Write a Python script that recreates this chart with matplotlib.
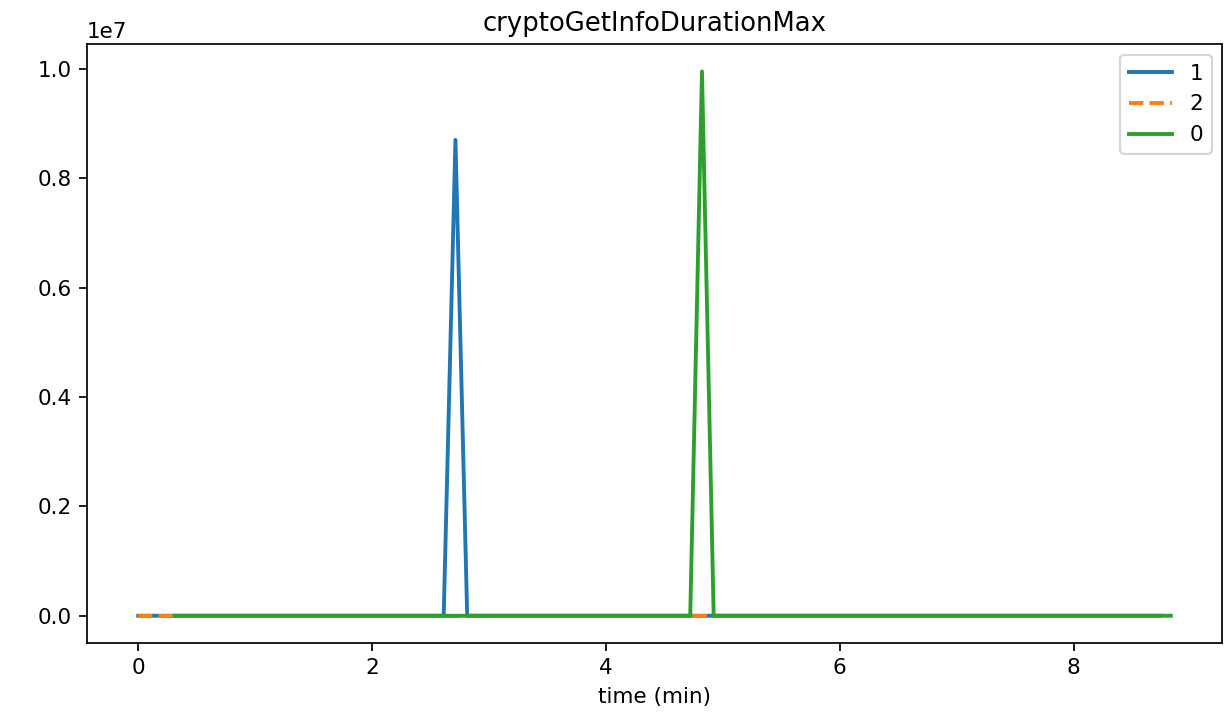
import numpy as np
import matplotlib
matplotlib.use("Agg")
import matplotlib.pyplot as plt

# sample times (min), one sample roughly every 6 s
t_1 = np.linspace(0.0, 8.74, 88)
t_2 = np.linspace(0.0, 8.74, 88)
t_0 = np.linspace(0.31, 8.83, 86)

# max duration per sample, mostly zero with one spike each
vals_1 = np.zeros(len(t_1))
vals_1[27] = 8.7e6
vals_2 = np.zeros(len(t_2))
vals_0 = np.zeros(len(t_0))
vals_0[45] = 9.95e6

series = [("1", t_1, vals_1, "-"), ("2", t_2, vals_2, "--"), ("0", t_0, vals_0, "-")]

fig, ax = plt.subplots(figsize=(1224 / 155, 720 / 155), dpi=155)
for name, t, v, ls in series:
    ax.plot(t, v, linestyle=ls, linewidth=1.8, label=name)

ax.set_title("cryptoGetInfoDurationMax")
ax.set_xlabel("time (min)")
ax.legend(loc="upper right")
fig.subplots_adjust(left=0.0708, right=0.9987, top=0.9385, bottom=0.107)
plt.savefig("out.png", dpi=155)
plt.close()
